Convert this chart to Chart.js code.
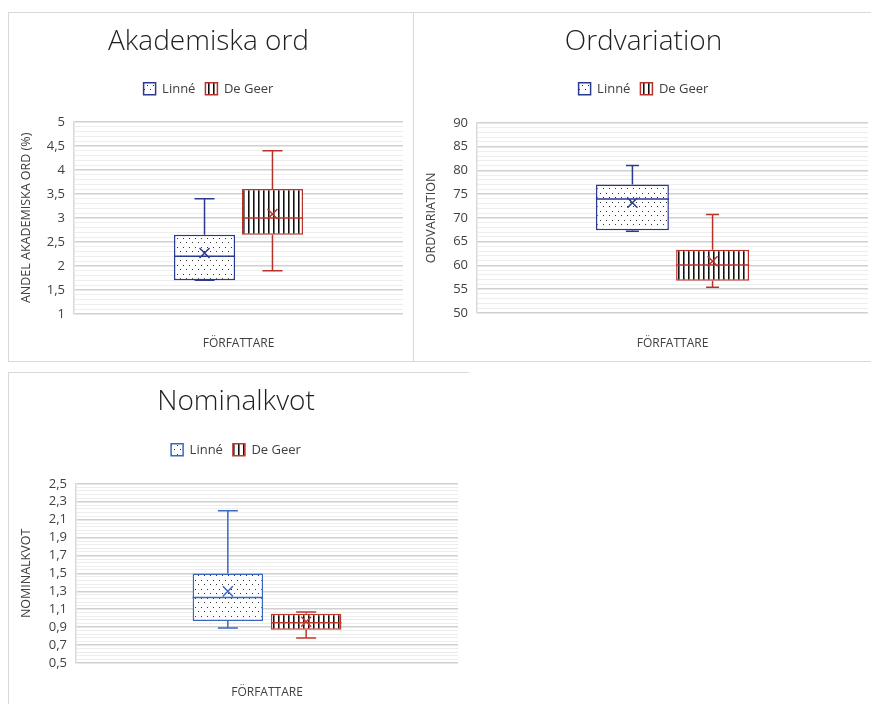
<!DOCTYPE html>
<html>
<head>
<meta charset="utf-8">
<script src="https://cdn.jsdelivr.net/npm/chart.js@4.4.1/dist/chart.umd.min.js"></script>
<style>
  body { margin: 0; background: #fff; width: 871px; height: 704px; overflow: hidden; position: relative; }
  .frame { position: absolute; border: 0 solid #d9d9d9; box-sizing: border-box; }
  canvas { position: absolute; }
</style>
</head>
<body>
<div class="frame" style="left:8px;top:12px;width:406px;height:350px;border-width:1px;"></div>
<div class="frame" style="left:413px;top:12px;width:458px;height:350px;border-top-width:1px;border-bottom-width:1px;"></div>
<div class="frame" style="left:8px;top:372px;width:461px;height:332px;border-top-width:1px;border-left-width:1px;"></div>

<canvas id="akad" width="405" height="349" style="left:8px;top:12px"></canvas>
<canvas id="ordv" width="458" height="349" style="left:413px;top:12px"></canvas>
<canvas id="nomk" width="461" height="332" style="left:8px;top:372px"></canvas>

<script>
const authors = ["Linné", "De Geer"];

// Akademiska ord (%)
const akadMin = [1.7, 1.9];
const akadQ1 = [1.7, 2.65];
const akadMedian = [2.2, 3.0];
const akadQ3 = [2.65, 3.6];
const akadMax = [3.4, 4.4];
const akadMean = [2.27, 3.08];
const akadTicks = [1, 5, 0.5, 0.1]; // min, max, label step, minor step

// Ordvariation
const ordvMin = [67.2, 55.4];
const ordvQ1 = [67.4, 56.8];
const ordvMedian = [74.0, 60.1];
const ordvQ3 = [77.0, 63.3];
const ordvMax = [81.0, 70.7];
const ordvMean = [73.2, 60.9];
const ordvTicks = [50, 90, 5, 1];

// Nominalkvot
const nomkMin = [0.89, 0.78];
const nomkQ1 = [0.97, 0.87];
const nomkMedian = [1.23, 0.95];
const nomkQ3 = [1.5, 1.05];
const nomkMax = [2.2, 1.07];
const nomkMean = [1.3, 0.96];
const nomkTicks = [0.5, 2.5, 0.2, 0.04];

const FONT = "'Open Sans', Lato, sans-serif";

function dotPattern() {
  const c = document.createElement("canvas");
  c.width = 6; c.height = 9;
  const g = c.getContext("2d");
  g.fillStyle = "#fff"; g.fillRect(0, 0, 6, 9);
  g.fillStyle = "#333";
  g.fillRect(1, 1, 1, 1);
  g.fillRect(4, 5, 1, 1);
  return g.createPattern(c, "repeat");
}

function stripePattern() {
  const c = document.createElement("canvas");
  c.width = 5; c.height = 4;
  const g = c.getContext("2d");
  g.fillStyle = "#fff"; g.fillRect(0, 0, 5, 4);
  g.fillStyle = "#111"; g.fillRect(0, 0, 1, 4);
  g.fillStyle = "#777"; g.fillRect(1, 0, 1, 4);
  return g.createPattern(c, "repeat");
}

// whiskers, median and mean drawn on top of the floating bars
const boxWhiskers = {
  id: "boxWhiskers",
  afterDatasetsDraw(chart, args, opts) {
    const ctx = chart.ctx;
    const y = chart.scales.y;
    opts.stats.forEach((s, i) => {
      const bar = chart.getDatasetMeta(i).data[0];
      const half = bar.width / 2;
      const x = bar.x;
      const cap = opts.cap / 2;
      ctx.save();
      ctx.strokeStyle = chart.data.datasets[i].borderColor;
      ctx.lineWidth = 1.5;
      ctx.beginPath();
      ctx.moveTo(x, y.getPixelForValue(s.q3));
      ctx.lineTo(x, y.getPixelForValue(s.max));
      ctx.moveTo(x - cap, y.getPixelForValue(s.max));
      ctx.lineTo(x + cap, y.getPixelForValue(s.max));
      ctx.moveTo(x, y.getPixelForValue(s.q1));
      ctx.lineTo(x, y.getPixelForValue(s.min));
      ctx.moveTo(x - cap, y.getPixelForValue(s.min));
      ctx.lineTo(x + cap, y.getPixelForValue(s.min));
      ctx.moveTo(x - half, y.getPixelForValue(s.median));
      ctx.lineTo(x + half, y.getPixelForValue(s.median));
      const my = y.getPixelForValue(s.mean);
      ctx.moveTo(x - 5, my - 5); ctx.lineTo(x + 5, my + 5);
      ctx.moveTo(x + 5, my - 5); ctx.lineTo(x - 5, my + 5);
      ctx.stroke();
      ctx.restore();
    });
  }
};

// extra room under the legend
const legendGap = {
  id: "legendGap",
  afterInit(chart, args, opts) {
    const fit = chart.legend.fit;
    chart.legend.fit = function () {
      fit.call(this);
      this.height += opts.extra;
    };
  }
};

function fmt(v) {
  return String(Number(v.toFixed(2))).replace(".", ",");
}

function makeChart(id, c) {
  const canvas = document.getElementById(id);
  const ctx = canvas.getContext("2d");
  const [ymin, ymax, major, minor] = c.ticks;
  const isMajor = (v) => {
    const k = (v - ymin) / major;
    return Math.abs(k - Math.round(k)) < 1e-6;
  };
  const stats = authors.map((a, i) => ({
    min: c.min[i], q1: c.q1[i], median: c.median[i], q3: c.q3[i], max: c.max[i], mean: c.mean[i]
  }));
  const patterns = [dotPattern(), stripePattern()];
  return new Chart(ctx, {
    type: "bar",
    data: {
      labels: [""],
      datasets: authors.map((a, i) => ({
        label: a,
        data: [[c.q1[i], c.q3[i]]],
        backgroundColor: patterns[i],
        borderColor: c.colors[i],
        borderWidth: 1.5,
        borderSkipped: false,
        categoryPercentage: c.cp,
        barPercentage: c.bp
      }))
    },
    options: {
      responsive: false,
      animation: false,
      devicePixelRatio: 1,
      layout: { padding: { top: 0, left: 6, right: c.padRight, bottom: 0 } },
      scales: {
        x: {
          ticks: { display: false },
          grid: { display: false },
          border: { display: false },
          title: {
            display: true,
            text: "FÖRFATTARE",
            color: "#404040",
            font: { family: FONT, size: 12 },
            padding: { top: 0, bottom: c.xTitlePad }
          },
          afterFit: (scale) => { scale.height = c.h - c.plotBottom; }
        },
        y: {
          min: ymin,
          max: ymax,
          ticks: {
            stepSize: minor,
            autoSkip: false,
            padding: 9,
            color: "#404040",
            font: { family: FONT, size: 13 },
            callback: (v) => (isMajor(v) ? fmt(v) : "")
          },
          grid: {
            drawTicks: false,
            color: (context) => (context.tick && isMajor(context.tick.value) ? "#d0d0d0" : "#ededed"),
            lineWidth: (context) => (context.tick && isMajor(context.tick.value) ? 1.5 : 1)
          },
          border: { display: true, color: "#d9d9d9", width: 1.5 },
          title: {
            display: true,
            text: c.yTitle,
            color: "#404040",
            font: { family: FONT, size: 12.5 },
            padding: { top: 5, bottom: 0 }
          },
          afterFit: (scale) => { scale.width = c.plotLeft - 6; }
        }
      },
      plugins: {
        title: {
          display: true,
          text: c.title,
          color: "#1f1f1f",
          font: { family: FONT, size: 28, weight: "300" },
          padding: { top: 13, bottom: c.titlePadBottom }
        },
        legend: {
          position: "top",
          labels: {
            boxWidth: 12,
            boxHeight: 12,
            padding: 10,
            color: "#404040",
            font: { family: FONT, size: 13 }
          }
        },
        tooltip: { enabled: false },
        boxWhiskers: { stats: stats, cap: c.cap },
        legendGap: { extra: c.legendExtra }
      }
    },
    plugins: [boxWhiskers, legendGap]
  });
}

makeChart("akad", {
  title: "Akademiska ord",
  yTitle: "ANDEL AKADEMISKA ORD (%)",
  min: akadMin, q1: akadQ1, median: akadMedian, q3: akadQ3, max: akadMax, mean: akadMean,
  ticks: akadTicks,
  colors: ["#2b3990", "#b8322a"],
  cp: 0.413, bp: 0.9, cap: 20,
  h: 349, plotLeft: 66, plotBottom: 302, padRight: 10,
  titlePadBottom: 13.7, legendExtra: 16.5, xTitlePad: 9.8
});

makeChart("ordv", {
  title: "Ordvariation",
  yTitle: "ORDVARIATION",
  min: ordvMin, q1: ordvQ1, median: ordvMedian, q3: ordvQ3, max: ordvMax, mean: ordvMean,
  ticks: ordvTicks,
  colors: ["#2b3990", "#b8322a"],
  cp: 0.41, bp: 0.91, cap: 13,
  h: 349, plotLeft: 64, plotBottom: 301, padRight: 3,
  titlePadBottom: 13.7, legendExtra: 17.5, xTitlePad: 9.8
});

makeChart("nomk", {
  title: "Nominalkvot",
  yTitle: "NOMINALKVOT",
  min: nomkMin, q1: nomkQ1, median: nomkMedian, q3: nomkQ3, max: nomkMax, mean: nomkMean,
  ticks: nomkTicks,
  colors: ["#3a68c0", "#c0392b"],
  cp: 0.41, bp: 0.9, cap: 20,
  h: 332, plotLeft: 68, plotBottom: 291, padRight: 11,
  titlePadBottom: 14.7, legendExtra: 17.5, xTitlePad: 3.8
});
</script>
</body>
</html>
